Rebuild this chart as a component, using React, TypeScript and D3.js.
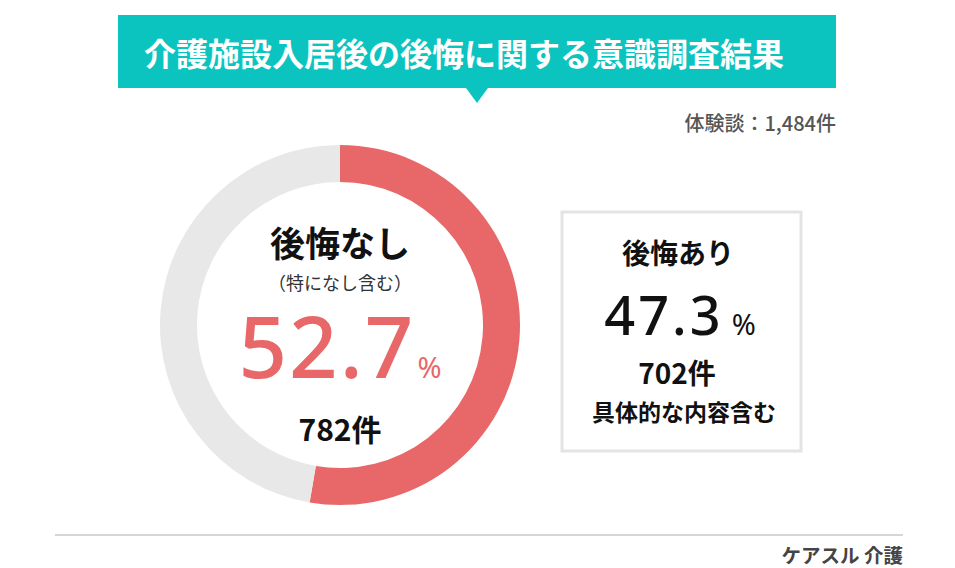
import React from "react";
import * as d3 from "d3";

const categories = ["後悔なし", "後悔あり"];
const percents = [52.7, 47.3];
const counts = [782, 702];
const totalCount = 1484;
const titleText = "介護施設入居後の後悔に関する意識調査結果";
const sourceText = "ケアスル 介護";

const W = 955;
const H = 568;
const FONT = "'Noto Sans CJK JP', 'Noto Sans', sans-serif";

export default function App() {
  const cx = 340;
  const cy = 325;
  const outerR = 180;
  const innerR = 143;
  const pie = d3
    .pie<number>()
    .sort(null)
    .startAngle(0)
    .endAngle(2 * Math.PI)
    .value((d) => d);
  const arcs = pie(percents);
  const arc = d3.arc<d3.PieArcDatum<number>>().innerRadius(innerR).outerRadius(outerR);
  const colors = ["#E86869", "#E8E8E8"];
  const fmt = d3.format(",");

  return (
    <svg
      width={W}
      height={H}
      style={{ position: "absolute", left: 0, top: 0, background: "#fff" }}
      fontFamily={FONT}
    >
      {/* Title banner */}
      <rect x={118} y={15} width={718} height={73} fill="#0CC4BF" />
      <path d="M466,88 L488,88 L477,103 Z" fill="#0CC4BF" />
      <text
        x={464}
        y={52}
        fill="#fff"
        fontSize={32}
        fontWeight={700}
        textAnchor="middle"
        dominantBaseline="central"
      >
        {titleText}
      </text>
      <text x={836} y={122} fill="#555" fontSize={20} fontWeight={500} textAnchor="end" dominantBaseline="central">
        {`体験談：${fmt(totalCount)}件`}
      </text>

      {/* Donut */}
      <g transform={`translate(${cx},${cy})`}>
        {arcs.map((a, i) => (
          <path key={i} d={arc(a) || ""} fill={colors[i]} />
        ))}
      </g>
      <text x={cx} y={241} fontSize={35} fontWeight={700} fill="#111" textAnchor="middle" dominantBaseline="central">
        {categories[0]}
      </text>
      <text x={cx} y={282} fontSize={18} fill="#333" textAnchor="middle" dominantBaseline="central">
        （特になし含む）
      </text>
      <text x={cx} y={378} textAnchor="middle" fill="#E86869" fontFamily="'Noto Sans', sans-serif">
        <tspan fontSize={85} fontWeight={500} letterSpacing={2}>{percents[0].toFixed(1)}</tspan>
        <tspan fontSize={29} dx={2}>%</tspan>
      </text>
      <text x={cx} y={428} fontSize={30} fontWeight={700} fill="#111" textAnchor="middle" dominantBaseline="central">
        {`${counts[0]}件`}
      </text>

      {/* Right box */}
      <rect x={562} y={212} width={239} height={239} fill="#fff" stroke="#E4E4E4" strokeWidth={3} />
      <text x={678} y={252} fontSize={28} fontWeight={700} fill="#111" textAnchor="middle" dominantBaseline="central">
        {categories[1]}
      </text>
      <text x={680} y={335} textAnchor="middle" fill="#111" fontFamily="'Noto Sans', sans-serif">
        <tspan fontSize={54} fontWeight={500} letterSpacing={3}>{percents[1].toFixed(1)}</tspan>
        <tspan fontSize={29} dx={8}>%</tspan>
      </text>
      <text x={677} y={372} fontSize={28} fontWeight={700} fill="#111" textAnchor="middle" dominantBaseline="central">
        {`${counts[1]}件`}
      </text>
      <text x={684} y={411} fontSize={23} fontWeight={700} fill="#111" textAnchor="middle" dominantBaseline="central">
        具体的な内容含む
      </text>

      {/* Footer */}
      <line x1={55} x2={903} y1={535} y2={535} stroke="#C8C8C8" strokeWidth={1.5} />
      <text x={903} y={554} fontSize={19.5} fontWeight={700} fill="#444" textAnchor="end" dominantBaseline="central">
        {sourceText}
      </text>
    </svg>
  );
}
